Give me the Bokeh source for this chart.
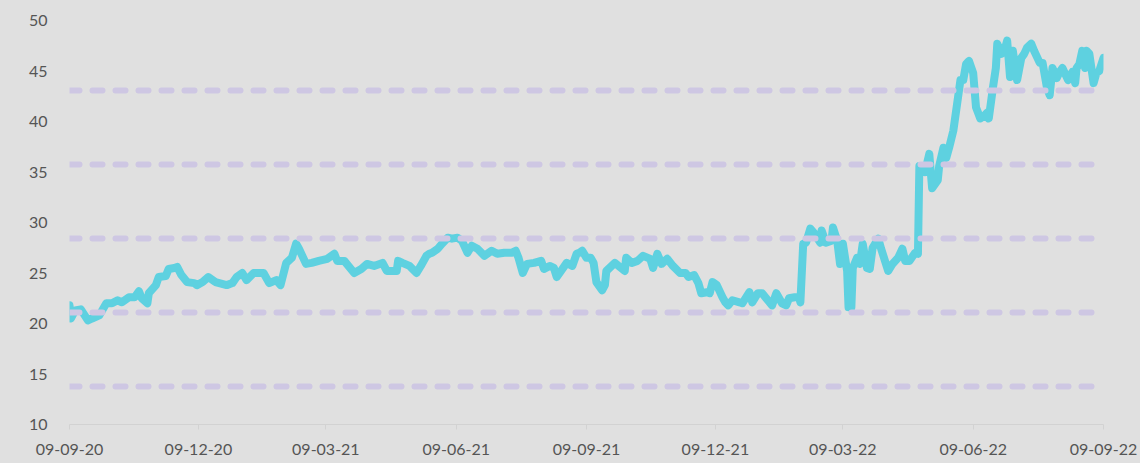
import pandas as pd
from bokeh.plotting import figure
from bokeh.models import (Range1d, FixedTicker, DatetimeTickFormatter, Span,
                          ColumnDataSource, GlobalInlineStyleSheet)
from bokeh.embed import file_html
from bokeh.resources import INLINE

# ---------------- data ----------------
dates = [
    "2020-09-09", "2020-09-10", "2020-09-13", "2020-09-17", "2020-09-22", "2020-09-25", "2020-09-30",
    "2020-10-05", "2020-10-09", "2020-10-13", "2020-10-16", "2020-10-21", "2020-10-25", "2020-10-28",
    "2020-10-30", "2020-11-03", "2020-11-04", "2020-11-09", "2020-11-11", "2020-11-16", "2020-11-18",
    "2020-11-22", "2020-11-24", "2020-11-27", "2020-12-01", "2020-12-06", "2020-12-08", "2020-12-12",
    "2020-12-16", "2020-12-21", "2020-12-29", "2021-01-02", "2021-01-05", "2021-01-09", "2021-01-12",
    "2021-01-17", "2021-01-24", "2021-01-28", "2021-02-02", "2021-02-05", "2021-02-09", "2021-02-13",
    "2021-02-16", "2021-02-18", "2021-02-23", "2021-02-27", "2021-03-04", "2021-03-10", "2021-03-15",
    "2021-03-17", "2021-03-22", "2021-03-29", "2021-04-03", "2021-04-07", "2021-04-12", "2021-04-18",
    "2021-04-21", "2021-04-28", "2021-04-29", "2021-05-02", "2021-05-07", "2021-05-12", "2021-05-15",
    "2021-05-19", "2021-05-21", "2021-05-23", "2021-05-27", "2021-05-30", "2021-06-03", "2021-06-06",
    "2021-06-10", "2021-06-13", "2021-06-17", "2021-06-20", "2021-06-24", "2021-06-29", "2021-07-04",
    "2021-07-08", "2021-07-13", "2021-07-18", "2021-07-21", "2021-07-23", "2021-07-26", "2021-07-29",
    "2021-08-03", "2021-08-08", "2021-08-10", "2021-08-14", "2021-08-17", "2021-08-19", "2021-08-22",
    "2021-08-26", "2021-08-30", "2021-09-02", "2021-09-04", "2021-09-06", "2021-09-09", "2021-09-12",
    "2021-09-14", "2021-09-16", "2021-09-20", "2021-09-22", "2021-09-23", "2021-09-29", "2021-10-06",
    "2021-10-07", "2021-10-11", "2021-10-15", "2021-10-19", "2021-10-24", "2021-10-26", "2021-10-29",
    "2021-11-01", "2021-11-05", "2021-11-09", "2021-11-14", "2021-11-18", "2021-11-20", "2021-11-24",
    "2021-11-27", "2021-11-29", "2021-12-03", "2021-12-05", "2021-12-07", "2021-12-10", "2021-12-14",
    "2021-12-16", "2021-12-18", "2021-12-21", "2021-12-26", "2021-12-28", "2022-01-02", "2022-01-04",
    "2022-01-08", "2022-01-11", "2022-01-15", "2022-01-18", "2022-01-21", "2022-01-25", "2022-01-28",
    "2022-01-30", "2022-02-03", "2022-02-06", "2022-02-07", "2022-02-09", "2022-02-11", "2022-02-14",
    "2022-02-17", "2022-02-21", "2022-02-22", "2022-02-25", "2022-03-01", "2022-03-02", "2022-03-05",
    "2022-03-07", "2022-03-09", "2022-03-12", "2022-03-13", "2022-03-15", "2022-03-16", "2022-03-19",
    "2022-03-21", "2022-03-23", "2022-03-26", "2022-03-28", "2022-03-30", "2022-04-03", "2022-04-05",
    "2022-04-10", "2022-04-13", "2022-04-17", "2022-04-20", "2022-04-22", "2022-04-25", "2022-04-29",
    "2022-05-01", "2022-05-02", "2022-05-06", "2022-05-09", "2022-05-11", "2022-05-15", "2022-05-16",
    "2022-05-19", "2022-05-21", "2022-05-23", "2022-05-26", "2022-05-28", "2022-05-31", "2022-06-02",
    "2022-06-04", "2022-06-06", "2022-06-09", "2022-06-11", "2022-06-14", "2022-06-17", "2022-06-19",
    "2022-06-20", "2022-06-23", "2022-06-25", "2022-06-26", "2022-06-29", "2022-07-01", "2022-07-03",
    "2022-07-05", "2022-07-07", "2022-07-10", "2022-07-13", "2022-07-15", "2022-07-17", "2022-07-20",
    "2022-07-22", "2022-07-26", "2022-07-28", "2022-07-31", "2022-08-02", "2022-08-04", "2022-08-07",
    "2022-08-09", "2022-08-11", "2022-08-15", "2022-08-18", "2022-08-20", "2022-08-21", "2022-08-23",
    "2022-08-25", "2022-08-27", "2022-08-28", "2022-08-30", "2022-09-02", "2022-09-04", "2022-09-06",
    "2022-09-09",
]
values = [
    21.8, 20.5, 21.3, 21.4, 20.3, 20.5, 20.8,
    22.0, 22.0, 22.3, 22.1, 22.6, 22.6, 23.2,
    22.5, 22.0, 23.0, 23.8, 24.6, 24.7, 25.4,
    25.5, 25.6, 24.8, 24.1, 24.0, 23.8, 24.1,
    24.6, 24.1, 23.8, 24.0, 24.6, 25.0, 24.3,
    25.0, 25.0, 24.0, 24.3, 23.8, 26.0, 26.5,
    27.9, 27.4, 25.9, 26.0, 26.2, 26.4, 26.9,
    26.2, 26.2, 25.0, 25.4, 25.9, 25.7, 26.0,
    25.2, 25.2, 26.2, 26.0, 25.7, 25.0, 25.7,
    26.7, 26.9, 27.0, 27.4, 27.9, 28.5, 28.4,
    28.5, 28.2, 27.0, 27.7, 27.4, 26.7, 27.2,
    26.9, 27.0, 27.0, 27.2, 26.5, 25.0, 25.9,
    26.0, 26.2, 25.4, 25.7, 25.5, 24.6, 25.2,
    26.0, 25.7, 26.9, 27.0, 27.2, 26.5, 26.5,
    26.0, 24.1, 23.3, 23.8, 25.2, 26.0, 25.2,
    26.5, 26.0, 26.2, 26.7, 26.4, 25.5, 26.9,
    25.9, 26.4, 25.7, 25.0, 25.0, 24.6, 24.8,
    24.0, 23.0, 23.1, 23.0, 24.1, 23.8, 22.6,
    22.1, 21.8, 22.3, 22.1, 22.0, 23.1, 22.1,
    23.0, 23.0, 22.3, 21.8, 23.0, 22.0, 21.8,
    22.5, 22.6, 22.6, 22.1, 27.9, 28.0, 29.4,
    28.9, 28.0, 29.2, 28.0, 28.2, 29.5, 28.2,
    25.9, 27.9, 25.2, 21.6, 21.6, 25.5, 26.5,
    25.9, 27.9, 25.5, 25.4, 27.5, 28.4, 27.4,
    25.2, 25.9, 26.5, 27.4, 26.2, 26.2, 27.0,
    26.9, 35.6, 35.0, 36.8, 33.4, 34.2, 35.6,
    37.4, 36.4, 37.4, 39.1, 41.1, 44.1, 44.1,
    45.7, 46.0, 44.8, 41.4, 40.3, 40.6, 40.9,
    40.3, 43.4, 45.3, 47.7, 46.7, 47.0, 48.0,
    44.4, 47.0, 44.1, 46.3, 46.7, 47.3, 47.7,
    47.0, 45.8, 45.8, 43.4, 42.6, 45.3, 44.3,
    44.9, 45.3, 44.1, 44.9, 43.8, 45.3, 45.7,
    47.0, 45.3, 47.0, 46.7, 43.8, 44.8, 45.0,
    46.3,
]
ref_levels = [13.76, 21.09, 28.42, 35.74, 43.07]
y_ticks = [10, 15, 20, 25, 30, 35, 40, 45, 50]
x_tick_dates = ["2020-09-09", "2020-12-09", "2021-03-09", "2021-06-09", "2021-09-09",
                "2021-12-09", "2022-03-09", "2022-06-09", "2022-09-09"]
x_start, x_end = "2020-09-09", "2022-09-09"
y_start, y_end = 10, 50

# ---------------- figure ----------------
BG = "#e0e0e0"
FONT = "Lato"
LABEL_COLOR = "#555555"

src = ColumnDataSource(dict(x=pd.to_datetime(dates), y=values))

p = figure(width=1140, height=463, output_backend="svg", toolbar_location=None,
           x_axis_type="datetime",
           x_range=Range1d(pd.Timestamp(x_start), pd.Timestamp(x_end)),
           y_range=Range1d(y_start, y_end),
           min_border_left=69, min_border_right=37, min_border_top=20, min_border_bottom=39)
p.background_fill_color = BG
p.border_fill_color = BG
p.outline_line_color = None
p.xgrid.visible = False
p.ygrid.visible = False

p.line("x", "y", source=src, line_color="#5ed1e0", line_width=8,
       line_join="round", line_cap="round")

for lv in ref_levels:
    p.add_layout(Span(location=lv, dimension="width", line_color="#cec7e3",
                      line_width=6, line_dash="10 13", line_cap="round"))

# x axis
xa = p.xaxis[0]
xa.ticker = FixedTicker(ticks=[pd.Timestamp(d).value / 1e6 for d in x_tick_dates])
fmt = "%d-%m-%y"
xa.formatter = DatetimeTickFormatter(days=fmt, months=fmt, years=fmt, hours=fmt,
                                     minutes=fmt, seconds=fmt, milliseconds=fmt,
                                     microseconds=fmt, minsec=fmt, hourmin=fmt)
xa.axis_line_color = "#d2d2d2"
xa.major_tick_line_color = "#d2d2d2"
xa.major_tick_out = 5
xa.major_tick_in = 0
xa.minor_tick_line_color = None
xa.major_label_text_font = FONT
xa.major_label_text_font_size = "16px"
xa.major_label_text_color = LABEL_COLOR
xa.major_label_standoff = 14

# y axis
ya = p.yaxis[0]
ya.ticker = FixedTicker(ticks=y_ticks)
ya.axis_line_color = None
ya.major_tick_line_color = None
ya.minor_tick_line_color = None
ya.major_tick_out = 0
ya.major_tick_in = 0
ya.major_label_standoff = 22
ya.major_label_text_font = FONT
ya.major_label_text_font_size = "16px"
ya.major_label_text_color = LABEL_COLOR

p.stylesheets = [GlobalInlineStyleSheet(
    css="html,body{background:#e0e0e0;margin:0;padding:0;overflow:hidden;}")]

open("out.html", "w").write(file_html(p, INLINE))
